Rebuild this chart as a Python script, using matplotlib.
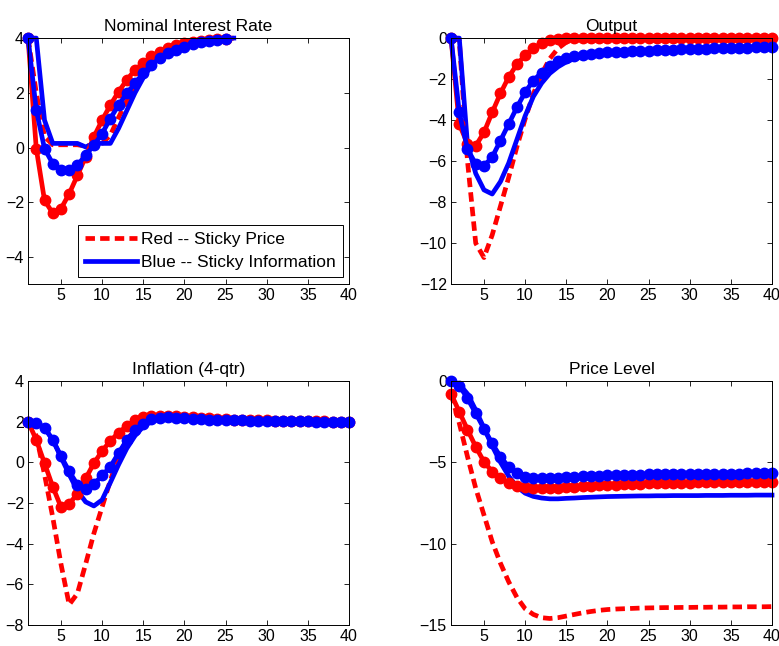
import numpy as np
import matplotlib
matplotlib.use('Agg')
import matplotlib.pyplot as plt

plt.rcParams['font.family'] = ['Liberation Sans', 'DejaVu Sans']

# Nominal interest rate (series stop after ~25 quarters)
rate_sp = [4.0, 2.0, 0.4, 0.1, 0.1, 0.1, 0.1, 0.05, 0.1, 0.15, 0.45, 1.1, 1.7,
           2.2, 2.65, 3.0, 3.3, 3.52, 3.68, 3.8, 3.88, 3.93, 3.96, 3.98, 3.99, 4.0]
rate_si = [4.0, 4.0, 1.0, 0.15, 0.15, 0.15, 0.15, 0.02, 0.15, 0.15, 0.15, 0.7, 1.35,
           2.0, 2.55, 3.0, 3.33, 3.55, 3.72, 3.83, 3.9, 3.94, 3.97, 3.98, 3.99, 4.0]
rate_sp_m = [4.0, -0.04, -1.93, -2.40, -2.24, -1.69, -1.02, -0.34, 0.39, 1.0, 1.55,
             2.04, 2.47, 2.84, 3.08, 3.33, 3.5, 3.63, 3.74, 3.82, 3.87, 3.91, 3.94,
             3.96, 3.98]
rate_si_m = [4.0, 1.37, -0.04, -0.59, -0.83, -0.83, -0.65, -0.28, 0.08, 0.51, 1.06,
             1.55, 1.98, 2.35, 2.72, 3.02, 3.27, 3.45, 3.58, 3.69, 3.77, 3.84, 3.89,
             3.93, 3.97]

# Output
out_sp = [0.0, -0.1, -6.0, -10.0, -10.7, -9.6, -8.2, -6.8, -5.3, -3.95, -2.72, -1.75,
          -1.0, -0.5, -0.2, -0.1, -0.08, -0.08, -0.08, -0.08, -0.08, -0.08, -0.08,
          -0.08, -0.08, -0.08, -0.08, -0.08, -0.08, -0.08, -0.08, -0.08, -0.08, -0.08,
          -0.08, -0.08, -0.08, -0.08, -0.08, -0.08]
out_si = [0.0, 0.0, -5.2, -6.6, -7.4, -7.6, -7.0, -6.1, -4.95, -3.8, -2.85, -2.2,
          -1.72, -1.4, -1.16, -1.0, -0.92, -0.86, -0.82, -0.79, -0.76, -0.73, -0.71,
          -0.69, -0.67, -0.65, -0.63, -0.61, -0.6, -0.58, -0.56, -0.55, -0.53, -0.52,
          -0.5, -0.49, -0.48, -0.47, -0.46, -0.45]
out_sp_m = [0.0, -4.2, -5.15, -5.25, -4.6, -3.62, -2.7, -1.9, -1.28, -0.84, -0.5,
            -0.25, -0.1, -0.03, 0.0, 0.02, 0.02, 0.02, 0.02, 0.02, 0.02, 0.02, 0.02,
            0.02, 0.02, 0.02, 0.02, 0.02, 0.02, 0.02, 0.02, 0.02, 0.02, 0.02, 0.02,
            0.02, 0.02, 0.02, 0.02, 0.02]
out_si_m = [0.0, -3.62, -5.41, -6.14, -6.23, -5.8, -5.0, -4.19, -3.38, -2.64, -2.07,
            -1.68, -1.38, -1.14, -0.98, -0.88, -0.81, -0.76, -0.73, -0.7, -0.68,
            -0.66, -0.64, -0.62, -0.61, -0.59, -0.58, -0.56, -0.55, -0.54, -0.52,
            -0.51, -0.5, -0.49, -0.48, -0.47, -0.46, -0.45, -0.44, -0.43]

# Inflation (4-qtr)
inf_sp = [2.0, 1.3, -0.6, -2.7, -5.0, -7.0, -6.45, -5.0, -3.5, -2.2, -0.9, 0.3, 1.1,
          1.6, 2.0, 2.15, 2.22, 2.25, 2.25, 2.22, 2.2, 2.17, 2.15, 2.12, 2.1, 2.09,
          2.07, 2.06, 2.05, 2.04, 2.03, 2.03, 2.02, 2.02, 2.01, 2.01, 2.01, 2.0, 2.0,
          2.0]
inf_si = [2.0, 1.95, 1.7, 1.1, 0.25, -0.6, -1.4, -1.95, -2.15, -1.85, -1.0, -0.12,
          0.68, 1.3, 1.75, 2.0, 2.12, 2.15, 2.15, 2.13, 2.11, 2.09, 2.08, 2.07, 2.06,
          2.05, 2.04, 2.03, 2.03, 2.02, 2.02, 2.01, 2.01, 2.01, 2.0, 2.0, 2.0, 2.0,
          2.0, 2.0]
inf_sp_m = [2.0, 1.1, -0.05, -1.2, -2.2, -2.05, -1.55, -0.8, -0.05, 0.55, 1.05, 1.45,
            1.78, 2.05, 2.2, 2.25, 2.27, 2.27, 2.25, 2.23, 2.2, 2.18, 2.15, 2.13, 2.11,
            2.09, 2.08, 2.07, 2.06, 2.05, 2.04, 2.03, 2.03, 2.02, 2.02, 2.01, 2.01,
            2.0, 2.0, 2.0]
inf_si_m = [2.0, 1.92, 1.68, 1.1, 0.3, -0.45, -1.1, -1.3, -1.08, -0.65, -0.22, 0.45,
            1.09, 1.57, 1.9, 2.1, 2.18, 2.2, 2.18, 2.15, 2.13, 2.11, 2.09, 2.08, 2.07,
            2.06, 2.05, 2.04, 2.03, 2.03, 2.02, 2.02, 2.01, 2.01, 2.01, 2.0, 2.0, 2.0,
            2.0, 2.0]

# Price level
pl_sp = [-0.8, -2.6, -4.66, -6.6, -8.24, -9.88, -11.2, -12.34, -13.3, -14.0, -14.35,
         -14.55, -14.6, -14.55, -14.45, -14.35, -14.25, -14.17, -14.1, -14.05, -14.02,
         -14.0, -13.98, -13.96, -13.95, -13.94, -13.93, -13.93, -13.92, -13.92,
         -13.91, -13.91, -13.9, -13.9, -13.89, -13.89, -13.88, -13.88, -13.88, -13.87]
pl_si = [0.0, -0.2, -0.8, -1.8, -2.9, -4.0, -5.0, -5.85, -6.5, -6.9, -7.1, -7.2,
         -7.25, -7.25, -7.22, -7.2, -7.17, -7.15, -7.13, -7.11, -7.1, -7.09, -7.08,
         -7.07, -7.07, -7.06, -7.06, -7.05, -7.05, -7.05, -7.05, -7.04, -7.04, -7.04,
         -7.03, -7.03, -7.03, -7.02, -7.02, -7.02]
pl_sp_m = [-0.8, -1.9, -3.0, -4.05, -4.97, -5.58, -6.0, -6.3, -6.45, -6.52, -6.57,
           -6.6, -6.6, -6.58, -6.55, -6.52, -6.49, -6.46, -6.43, -6.4, -6.38, -6.36,
           -6.34, -6.32, -6.3, -6.29, -6.28, -6.27, -6.26, -6.25, -6.24, -6.23, -6.23,
           -6.22, -6.22, -6.21, -6.21, -6.2, -6.2, -6.2]
pl_si_m = [0.0, -0.3, -1.08, -2.0, -2.93, -3.85, -4.66, -5.28, -5.69, -5.89, -5.95,
           -6.0, -5.98, -5.95, -5.92, -5.89, -5.86, -5.84, -5.82, -5.8, -5.79, -5.78,
           -5.77, -5.76, -5.75, -5.75, -5.74, -5.74, -5.73, -5.73, -5.72, -5.72, -5.71,
           -5.71, -5.7, -5.7, -5.69, -5.69, -5.68, -5.68]

titles = ['Nominal Interest Rate', 'Output', 'Inflation (4-qtr)', 'Price Level']
ylims = [(-5, 4), (-12, 0), (-8, 4), (-15, 0)]
yticks = [np.arange(-4, 5, 2), np.arange(-12, 1, 2), np.arange(-8, 5, 2),
          np.arange(-15, 1, 5)]
xticks = np.arange(5, 41, 5)

panels = [(rate_sp, rate_si, rate_sp_m, rate_si_m),
          (out_sp, out_si, out_sp_m, out_si_m),
          (inf_sp, inf_si, inf_sp_m, inf_si_m),
          (pl_sp, pl_si, pl_sp_m, pl_si_m)]

# axes boxes in figure fractions (left, bottom, width, height)
boxes = [(0.036, 0.560, 0.412, 0.381), (0.579, 0.560, 0.412, 0.381),
         (0.036, 0.0325, 0.412, 0.378), (0.579, 0.0325, 0.412, 0.378)]

fig = plt.figure(figsize=(7.79, 6.46), dpi=100)
lw = 3.4
ms = 7.5
for i in range(4):
    ax = fig.add_axes(boxes[i])
    sp, si, sp_m, si_m = panels[i]
    x1 = np.arange(1, len(sp) + 1)
    x2 = np.arange(1, len(si) + 1)
    x3 = np.arange(1, len(sp_m) + 1)
    x4 = np.arange(1, len(si_m) + 1)
    l1, = ax.plot(x1, sp, color='#ff0000', lw=lw, dashes=(2.0, 1.1),
                  label='Red -- Sticky Price', clip_on=False)
    l2, = ax.plot(x2, si, color='#0000ff', lw=lw,
                  label='Blue -- Sticky Information', clip_on=False)
    ax.plot(x3, sp_m, color='#ff0000', lw=lw, marker='o', ms=ms, mec='#ff0000',
            clip_on=False)
    ax.plot(x4, si_m, color='#0000ff', lw=lw, marker='o', ms=ms, mec='#0000ff',
            clip_on=False)

    ax.set_xlim(1, 40)
    ax.set_ylim(*ylims[i])
    ax.set_xticks(xticks)
    ax.set_yticks(yticks[i])
    ax.tick_params(direction='in', length=3.5, width=0.6, top=True, right=True,
                   labelsize=11.5, pad=3)
    for s in ax.spines.values():
        s.set_linewidth(0.7)
    ax.set_title(titles[i], fontsize=12.5, pad=5)

    if i == 0:
        ax.legend(handles=[l1, l2], loc='lower right',
                  bbox_to_anchor=(0.981, 0.028), borderaxespad=0,
                  fontsize=12.5, handlelength=3.0, handletextpad=0.25,
                  labelspacing=0.45, borderpad=0.4, fancybox=False,
                  framealpha=1, edgecolor='black')
        ax.get_legend().get_frame().set_linewidth(0.7)

plt.savefig('out.png', dpi=100)
